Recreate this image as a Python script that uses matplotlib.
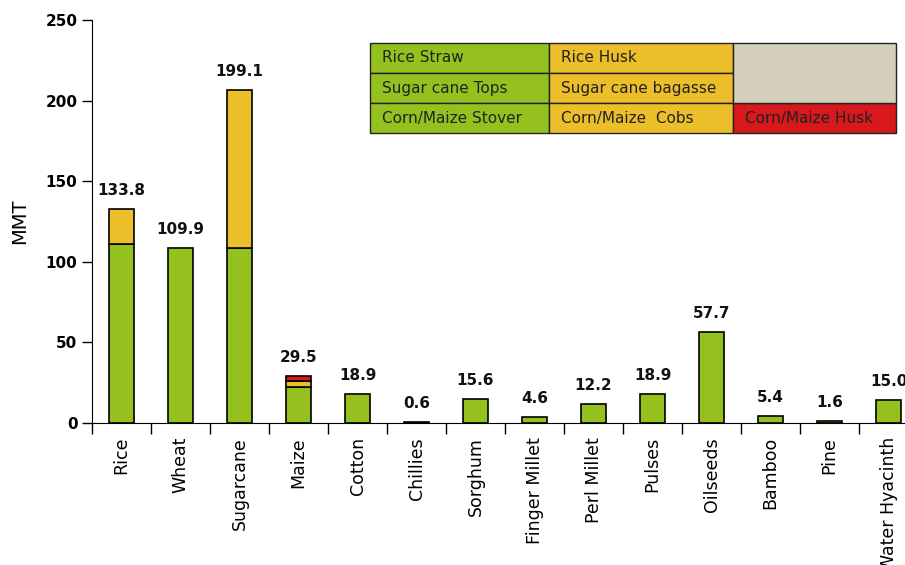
import numpy as np
import matplotlib
matplotlib.use('Agg')
import matplotlib.pyplot as plt
from matplotlib.patches import Rectangle

# crops and residue amounts (MMT)
crops = ['Rice', 'Wheat', 'Sugarcane', 'Maize', 'Cotton', 'Chillies', 'Sorghum',
         'Finger Millet', 'Perl Millet', 'Pulses', 'Oilseeds', 'Bamboo', 'Pine',
         'Water Hyacinth']
green = [111.0, 108.7, 108.7, 22.5, 18.0, 0.6, 15.0, 3.7, 11.8, 18.0, 56.5, 4.3, 1.0, 14.3]
yellow = [22.0, 0, 98.0, 3.5, 0, 0, 0, 0, 0, 0, 0, 0, 0, 0]
red = [0, 0, 0, 3.0, 0, 0, 0, 0, 0, 0, 0, 0, 0, 0]
totals = ['133.8', '109.9', '199.1', '29.5', '18.9', '0.6', '15.6', '4.6', '12.2',
          '18.9', '57.7', '5.4', '1.6', '15.0']

legendRows = [['Rice Straw', 'Rice Husk', ''],
              ['Sugar cane Tops', 'Sugar cane bagasse', ''],
              ['Corn/Maize Stover', 'Corn/Maize  Cobs', 'Corn/Maize Husk']]

cGreen = '#95c11f'
cYellow = '#ebbe2a'
cRed = '#d7191c'
cGray = '#d4d0bc'
fontSize = 11

fig = plt.figure(figsize=(9.05, 5.65), dpi=100)
ax = fig.add_axes([0.1017, 0.2513, 0.9127, 0.7133])

x = np.arange(len(crops))
w = 0.41
g = np.array(green)
yv = np.array(yellow)
r = np.array(red)
ax.bar(x, g, w, color=cGreen, edgecolor='black', lw=1.2)
ax.bar(x[yv > 0], yv[yv > 0], w, bottom=g[yv > 0], color=cYellow, edgecolor='black', lw=1.2)
ax.bar(x[r > 0], r[r > 0], w, bottom=(g + yv)[r > 0], color=cRed, edgecolor='black', lw=1.2)

tops = g + yv + r
for xi, top, lab in zip(x, tops, totals):
    ax.annotate(lab, (xi, top), xytext=(0, 8), textcoords='offset points',
                ha='center', va='bottom', fontsize=fontSize, fontweight='bold', color='#111')

ax.set_xlim(-0.5, len(crops) - 0.5)
ax.set_ylim(0, 250)
ax.set_yticks([0, 50, 100, 150, 200, 250])
ax.set_xticks(x)
ax.set_xticklabels(crops, rotation=90, fontsize=12.5)
ax.set_xticks(np.arange(len(crops)) - 0.5, minor=True)
ax.tick_params(axis='x', which='major', length=0, pad=10)
ax.tick_params(axis='x', which='minor', length=8, width=1)
ax.tick_params(axis='y', length=7, width=1, labelsize=fontSize)
for t in ax.get_yticklabels():
    t.set_fontweight('bold')
ax.spines['top'].set_visible(False)
ax.spines['right'].set_visible(False)
ax.set_ylabel('MMT', fontsize=14, labelpad=12)

# legend table drawn in pixels
W, H = 905, 565
colX = [370, 549, 733, 896]
rowY = [43, 73, 103, 133]
cellColors = [[cGreen, cYellow, cGray], [cGreen, cYellow, cGray], [cGreen, cYellow, cRed]]

def px(xp, yp):
    return xp / W, 1 - yp / H

for i in range(3):
    for j in range(3):
        if j == 2 and i < 2:
            continue
        x0, y0 = px(colX[j], rowY[i + 1])
        fig.patches.append(Rectangle((x0, y0), (colX[j + 1] - colX[j]) / W,
                                     (rowY[i + 1] - rowY[i]) / H, transform=fig.transFigure,
                                     facecolor=cellColors[i][j], edgecolor='#222', lw=1))
        if legendRows[i][j]:
            tx, ty = px(colX[j] + 12, (rowY[i] + rowY[i + 1]) / 2)
            fig.text(tx, ty, legendRows[i][j], fontsize=11, va='center', ha='left', color='#222')
x0, y0 = px(colX[2], rowY[2])
fig.patches.append(Rectangle((x0, y0), (colX[3] - colX[2]) / W, (rowY[2] - rowY[0]) / H,
                             transform=fig.transFigure, facecolor=cGray, edgecolor='#222', lw=1))

plt.savefig('out.png', dpi=100)
plt.close()
